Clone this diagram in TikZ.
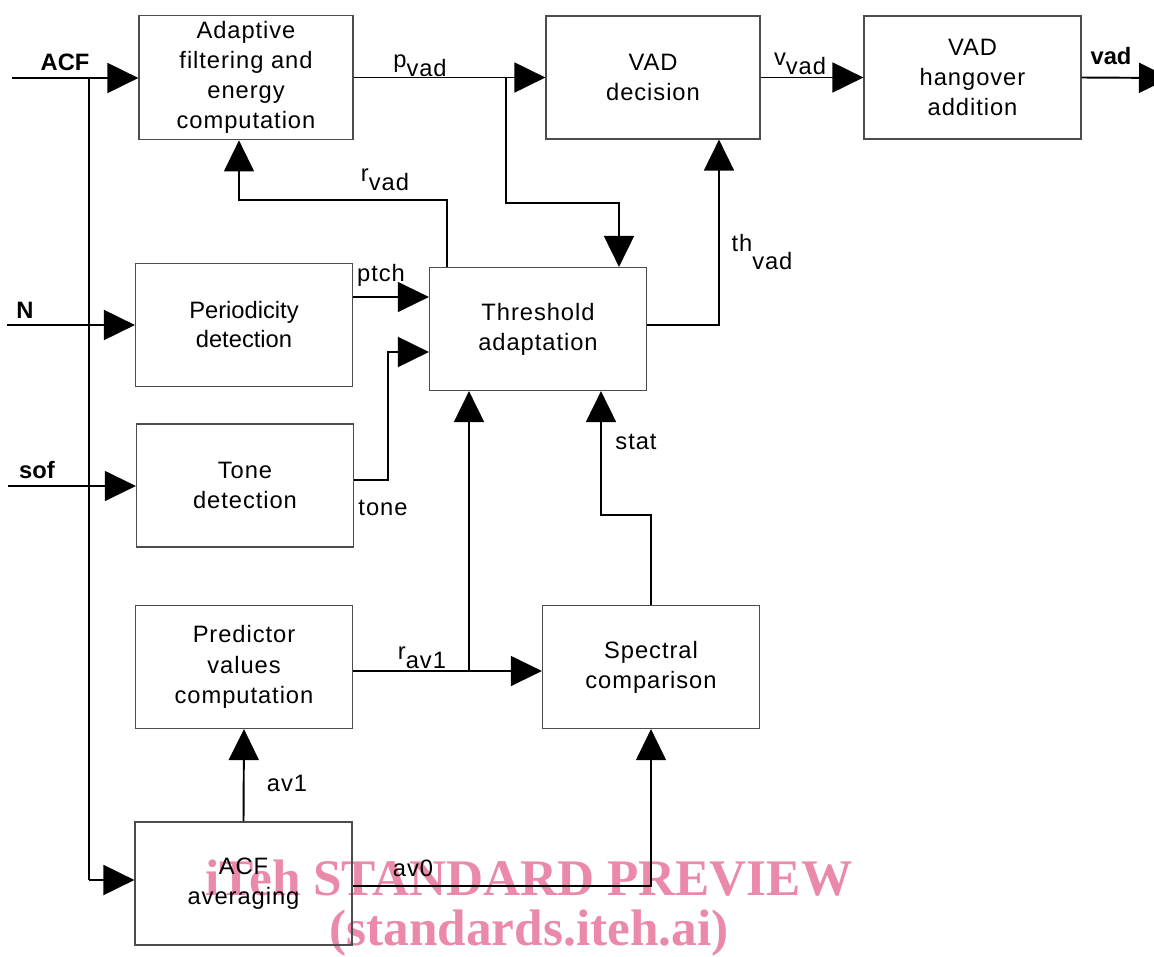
\documentclass[tikz,border=0pt]{standalone}
\usepackage{fontspec}
\setmainfont{Liberation Sans}
\newfontfamily\spaced[LetterSpace=4]{Liberation Sans}
\newfontfamily\wmfont{Liberation Serif}
\usepackage{xcolor}
\usetikzlibrary{arrows.meta}
\tikzset{>={Triangle[length=0.62cm,width=0.6cm]}}
\definecolor{wmpink}{RGB}{234,138,168}
\newcommand{\sub}[2]{#1\raisebox{-0.7ex}{#2}}

\begin{document}
\begin{tikzpicture}[x=0.02cm,y=-0.02cm,
  block/.style={draw=black!70,line width=0.7pt,minimum width=4.34cm,minimum height=2.46cm,align=center,font=\spaced\fontsize{13.5}{17.2}\selectfont},
  sig/.style={->,line width=1.1pt},
  thinsig/.style={->,line width=0.7pt},
  lab/.style={inner sep=0pt,font=\spaced\fontsize{13.5}{16}\selectfont},
  inlab/.style={inner sep=0pt,font=\bfseries\fontsize{13.5}{16}\selectfont},
  wm/.style={inner sep=0pt,text=wmpink,font=\wmfont\bfseries\fontsize{29.2}{32}\selectfont}]
\useasboundingbox (0,0) rectangle (1154,957);

% watermark, behind everything
\node[wm] (wmtop) at (529,878) {iTeh STANDARD PREVIEW};
\node[wm] (wmbot) at (529,933) {(standards.iteh.ai)};

% blocks
\node[block,minimum width=4.28cm] (adapt) at (246,77.5) {Adaptive\\filtering and\\energy\\computation};
\node[block,minimum width=4.28cm] (vaddec) at (653,77.5) {VAD\\decision};
\node[block] (hang) at (972.5,77.5) {VAD\\hangover\\addition};
\node[block,font=\fontsize{13.5}{16.5}\selectfont] (period) at (244,325) {Periodicity\\detection};
\node[block] (thresh) at (538,329) {Threshold\\adaptation};
\node[block] (tone) at (245,485.5) {Tone\\detection};
\node[block] (pred) at (244,667) {Predictor\\values\\computation};
\node[block] (spec) at (651,667) {Spectral\\comparison};
\node[block] (acfavg) at (243.5,883.5) {ACF\\averaging};

% bend points
\coordinate (acfin) at (12,78);
\coordinate (nin) at (7,325);
\coordinate (sofin) at (8,486);
\coordinate (bustop) at (89,78);
\coordinate (busbot) at (89,880);
\coordinate (vadout) at (1170,78);
\coordinate (ptap) at (506,78);
\coordinate (pbend) at (619,203);
\coordinate (rbend) at (447,200);
\coordinate (rend) at (239,200);
\coordinate (ptchy) at (0,297);
\coordinate (tbend) at (388,480);
\coordinate (tbend2) at (388,352);
\coordinate (thbend) at (719,325);
\coordinate (sbend) at (651,515);
\coordinate (sbend2) at (601,515);
\coordinate (ravy) at (0,671);
\coordinate (rtap) at (469,671);
\coordinate (av0y) at (0,886);

% inputs
\draw[sig] (acfin) -- (acfin -| adapt.west);
\draw[line width=1.1pt] (bustop) -- (busbot);
\draw[sig] (busbot) -- (busbot -| acfavg.west);
\draw[sig] (nin) -- (nin -| period.west);
\draw[thinsig] (sofin) -- (sofin -| tone.west);

% top row
\draw[sig] (adapt.east) -- (vaddec.west);
\draw[sig] (ptap) |- (pbend) -- (pbend |- thresh.north);
\draw[thinsig] (rbend |- thresh.north) -- (rbend) -- (rend) -- (rend |- adapt.south);
\draw[sig] (vaddec.east) -- (hang.west);
\draw[sig] (hang.east) -- (vadout);

% into threshold adaptation
\draw[thinsig] (period.east |- ptchy) -- (thresh.west |- ptchy);
\draw[sig] (tone.east |- tbend) -- (tbend) -- (tbend2) -- (thresh.west |- tbend2);
\draw[sig] (thresh.east |- thbend) -- (thbend) -- (thbend |- vaddec.south);
\draw[sig] (spec.north) -- (sbend) -- (sbend2) -- (sbend2 |- thresh.south);

% lower part
\draw[thinsig] (pred.east |- ravy) -- (spec.west |- ravy);
\draw[sig] (rtap) -- (rtap |- thresh.south);
\draw[sig] (acfavg.north) -- (pred.south);
\draw[thinsig] (acfavg.east |- av0y) -| (spec.south);

% labels
\node[inlab] (lacf) at (65,62) {ACF};
\node[inlab] (ln) at (25,310) {N};
\node[inlab] (lsof) at (37,470) {sof};
\node[inlab] (lvad) at (1111,56) {vad};
\node[lab] (lpvad) at (420,66) {\sub{p}{vad}};
\node[lab] (lvvad) at (800,64) {\sub{v}{vad}};
\node[lab] (lrvad) at (385,180) {\sub{r}{vad}};
\node[lab] (lthvad) at (762,252) {th\raisebox{-1.5ex}{vad}};
\node[lab] (lrav) at (422,658) {\sub{r}{av1}};
\node[lab] (lptch) at (381,275) {ptch};
\node[lab] (ltone) at (383,508) {tone};
\node[lab] (lstat) at (636,442) {stat};
\node[lab] (lav1) at (287,783) {av1};
\node[lab] (lav0) at (413,868) {av0};
\end{tikzpicture}
\end{document}
